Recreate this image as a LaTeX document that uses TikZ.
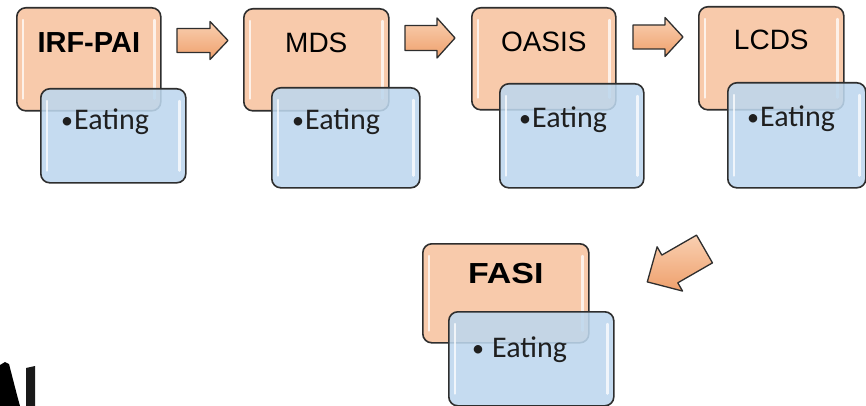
\documentclass[tikz,border=0pt]{standalone}
\usepackage{fontspec}
\setmainfont{Liberation Sans}
\newfontfamily\carl{Carlito}
\usetikzlibrary{calc}
\definecolor{ofill}{HTML}{F8CAAB}
\definecolor{bfill}{HTML}{BDD7EE}
\definecolor{edge}{HTML}{2E2E2E}
\definecolor{atop}{HTML}{F9D0B2}
\definecolor{abot}{HTML}{EFA06C}
\newcommand\smbul{\raisebox{1pt}{\fontsize{24}{24}\selectfont•}}
\tikzset{
  boxbase/.style={draw=edge, line width=1.6pt, rounded corners=9pt, inner sep=0pt, anchor=north west},
  obox/.style={boxbase, fill=ofill},
  bbox/.style={boxbase, fill=bfill, fill opacity=0.88},
  gloss/.style={white, line width=2.4pt, line cap=round, opacity=0.75},
  ttl/.style={font=\fontsize{28}{30}\selectfont, text=black, anchor=base, inner sep=0pt},
  ttlb/.style={ttl, font=\fontsize{29}{30}\selectfont\bfseries},
  itemtext/.style={font=\carl\fontsize{30}{32}\selectfont, text=black!88, anchor=base west, inner sep=0pt},
  blockarrow/.style={draw=edge, line width=1.3pt, line join=round, top color=atop, bottom color=abot},
}
% name, style, left, top, right, bottom
\newcommand\gbox[6]{%
  \node[#2, minimum width={#5-#3}, minimum height={#6-#4}] (#1) at (#3,#4) {};
  \draw[gloss] ($(#1.north west)+(7,13)$) -- ($(#1.south west)+(7,-13)$);
  \draw[gloss] ($(#1.north east)+(-7,13)$) -- ($(#1.south east)+(-7,-13)$);
}
% tail x, tail y, angle, length, head length, shaft half width, head half width
\newcommand\barrow[7]{%
  \begin{scope}[shift={(#1,#2)}, rotate=#3]
    \draw[blockarrow] (0,-#6) -- (#4-#5,-#6) -- (#4-#5,-#7) -- (#4,0) -- (#4-#5,#7) -- (#4-#5,#6) -- (0,#6) -- cycle;
  \end{scope}
}
\begin{document}
\begin{tikzpicture}[x=1pt, y=-1pt]
\useasboundingbox (0,0) rectangle (866,406);
\fill[white] (0,0) rectangle (866,406);

% column 1
\gbox{o1}{obox}{16}{7}{160}{110}
\gbox{b1}{bbox}{40}{88}{185}{182}
\node[ttlb] (t1) at ($(o1.north)+(0,46)$) {IRF-PAI};
\node[itemtext] (e1) at ($(b1.north west)+(21,42)$) {\smbul\kern1pt Eating};

% column 2
\gbox{o2}{obox}{243}{8}{388}{110}
\gbox{b2}{bbox}{271}{87}{419}{187}
\node[ttl] (t2) at ($(o2.north)+(0,45)$) {MDS};
\node[itemtext] (e2) at ($(b2.north west)+(21,43)$) {\smbul\kern1pt Eating};

% column 3
\gbox{o3}{obox}{471}{7}{615}{109}
\gbox{b3}{bbox}{499}{83}{643}{187}
\node[ttl] (t3) at ($(o3.north)+(0,45)$) {OASIS};
\node[itemtext] (e3) at ($(b3.north west)+(20,45)$) {\smbul\kern1pt Eating};

% column 4
\gbox{o4}{obox}{698}{6}{843}{109}
\gbox{b4}{bbox}{727}{82}{865}{187}
\node[ttl] (t4) at ($(o4.north)+(0,44)$) {LCDS};
\node[itemtext] (e4) at ($(b4.north west)+(20,45)$) {\smbul\kern1pt Eating};

% bottom
\gbox{o5}{obox}{422}{243}{588}{342}
\gbox{b5}{bbox}{448}{311}{613}{405}
\node[ttlb] (t5) at ($(o5.north)+(0,40)$) {\scalebox{1.17}[1]{FASI}};
\node[itemtext] (e5) at ($(b5.north west)+(24,46)$) {\smbul\kern8pt Eating};

% block arrows
\barrow{177}{40.5}{0}{51}{18}{12}{19}
\barrow{405}{38}{0}{50}{18}{12.5}{20}
\barrow{633}{37}{0}{50}{18}{12}{19.5}
\barrow{704.5}{249}{209.9}{66}{26}{16}{25.5}

% cropped fragment bottom left
\fill[black] (0,365) -- (5,362) -- (9,364) -- (17,395) -- (20,406) -- (0,406) -- cycle;
\fill[black!90] (26,368) -- (35,366) -- (35,406) -- (26,406) -- cycle;
\end{tikzpicture}
\end{document}
